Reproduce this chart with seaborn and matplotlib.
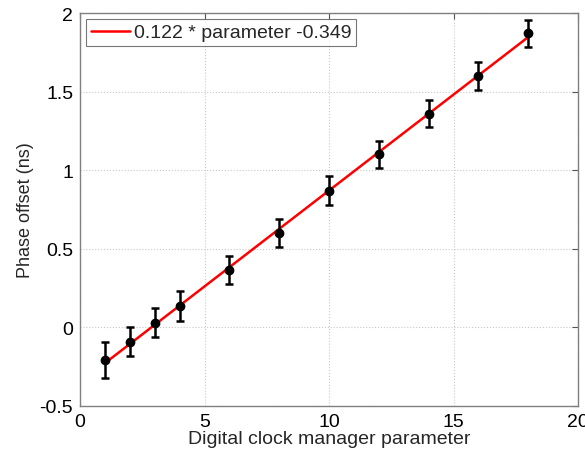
import matplotlib
matplotlib.use("Agg")
import matplotlib.pyplot as plt
import seaborn as sns
import numpy as np
import pandas as pd
from matplotlib.ticker import FuncFormatter

# data
params = [1, 2, 3, 4, 6, 8, 10, 12, 14, 16, 18]
offsets = [-0.21, -0.09, 0.03, 0.135, 0.365, 0.60, 0.87, 1.10, 1.36, 1.60, 1.87]
errors = [0.115, 0.095, 0.093, 0.097, 0.092, 0.09, 0.09, 0.087, 0.087, 0.089, 0.088]
slope = 0.122
intercept = -0.349
fit_x = [1, 18]
fit_label = "0.122 * parameter -0.349"
x_ticks = [0, 5, 10, 15, 20]
y_ticks = [-0.5, 0, 0.5, 1, 1.5, 2]

sns.set_style("white")
plt.rcParams['font.family'] = ['Liberation Sans', 'DejaVu Sans']

fig = plt.figure(figsize=(5.85, 4.52), dpi=100)
ax = fig.add_axes([0.137, 0.0996, 0.851, 0.8694])

fit_df = pd.DataFrame({"x": fit_x, "y": [slope * v + intercept for v in fit_x]})
sns.lineplot(data=fit_df, x="x", y="y", ax=ax, color="#ff0000", linewidth=1.8,
             label=fit_label, zorder=3)

ax.errorbar(params, offsets, yerr=errors, fmt="o", color="black", markersize=6,
            elinewidth=1.8, capsize=3, capthick=1.8, zorder=4)

ax.set_xlim(0, 20)
ax.set_ylim(-0.5, 2)
ax.set_xticks(x_ticks)
ax.set_yticks(y_ticks)
ax.yaxis.set_major_formatter(FuncFormatter(lambda v, p: f"{v:g}"))
ax.grid(True, linestyle=":", color="#c8c8c8", linewidth=0.8)
ax.tick_params(direction="in", length=4, labelsize=14, color="#555555",
               top=True, right=True, labelcolor="black", pad=5)
for s in ax.spines.values():
    s.set_color("#808080")
    s.set_linewidth(1.0)

ax.set_xlabel("Digital clock manager parameter", fontsize=14, labelpad=0)
ax.set_ylabel("Phase offset (ns)", fontsize=13, labelpad=4)

leg = ax.legend(loc="upper left", fontsize=14, frameon=True, fancybox=False,
                edgecolor="#555555", borderpad=0.25, handlelength=2.0,
                handletextpad=0.2, borderaxespad=0.3)
leg.get_frame().set_linewidth(0.8)

fig.savefig("out.png", dpi=100)
